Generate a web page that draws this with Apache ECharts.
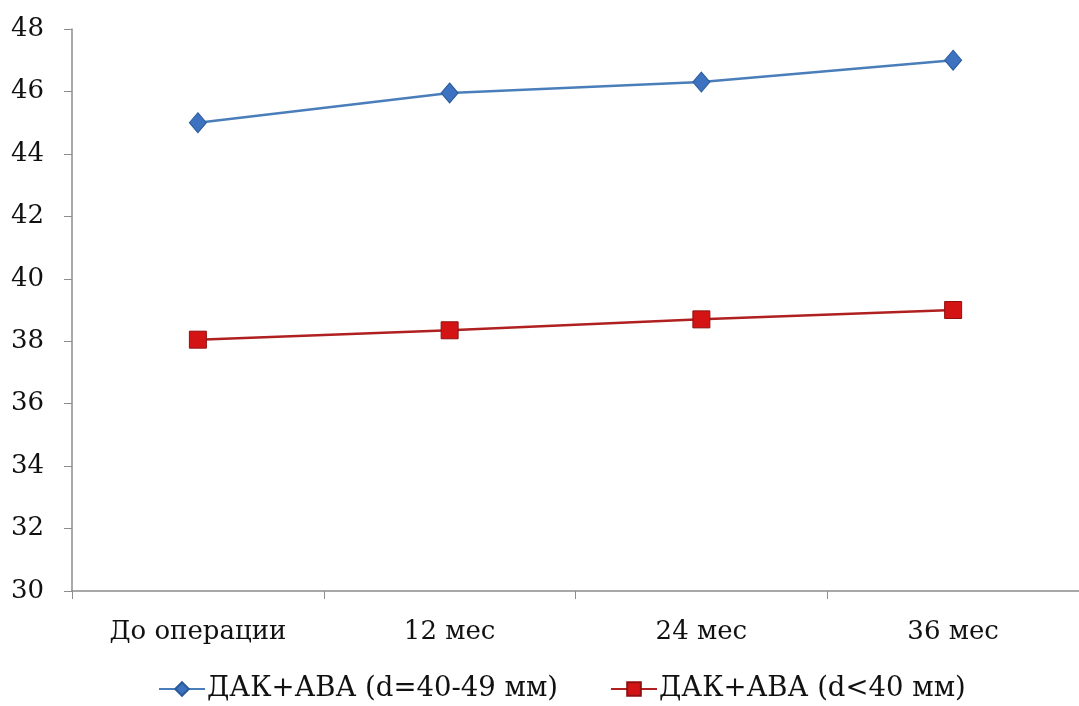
<!DOCTYPE html>
<html><head><meta charset="utf-8">
<script src="https://cdn.jsdelivr.net/npm/echarts@6/dist/echarts.min.js"></script>
<style>html,body{margin:0;padding:0;background:#fff}#c{width:1079px;height:706px}</style>
</head><body><div id="c"></div>
<script>
const categories = ['До операции', '12 мес', '24 мес', '36 мес'];
const seriesBlueName = 'ДАК+АВА (d=40-49 мм)';
const seriesRedName = 'ДАК+АВА (d<40 мм)';
const blueValues = [45.0, 45.95, 46.3, 47.0];
const redValues = [38.05, 38.35, 38.7, 39.0];
const yTicks = {min: 30, max: 48, interval: 2};

const font = 'DejaVu Serif';
const chart = echarts.init(document.getElementById('c'));
chart.setOption({
  animation: false,
  backgroundColor: '#fff',
  grid: {left: 72, top: 29, right: 0, height: 562, containLabel: false},
  legend: {
    top: 670, left: 153, itemGap: 52, itemWidth: 46, itemHeight: 17,
    textStyle: {fontFamily: font, fontSize: 27.5, color: '#111', padding: [0, 0, 0, -3]},
    data: [seriesBlueName, seriesRedName]
  },
  xAxis: {
    type: 'category', data: categories, boundaryGap: true,
    axisLine: {lineStyle: {color: '#8c8c8c', width: 1.5}},
    axisTick: {show: true, length: 8, lineStyle: {color: '#8c8c8c'}},
    axisLabel: {fontFamily: font, fontSize: 26, color: '#111', margin: 28},
    splitLine: {show: false}
  },
  yAxis: {
    type: 'value', min: yTicks.min, max: yTicks.max, interval: yTicks.interval,
    axisLine: {show: true, lineStyle: {color: '#8c8c8c', width: 1.5}},
    axisTick: {show: true, length: 8, lineStyle: {color: '#8c8c8c'}},
    axisLabel: {fontFamily: font, fontSize: 26, color: '#111', margin: 28},
    splitLine: {show: false}
  },
  series: [
    {
      name: seriesBlueName, type: 'line', data: blueValues,
      symbol: 'diamond', symbolSize: [17, 20],
      lineStyle: {color: '#4a7ebb', width: 2.5},
      itemStyle: {color: '#3c72c0', borderColor: '#2a5a9a', borderWidth: 1}
    },
    {
      name: seriesRedName, type: 'line', data: redValues,
      symbol: 'rect', symbolSize: 17,
      lineStyle: {color: '#b02020', width: 2.5},
      itemStyle: {color: '#d41414', borderColor: '#901010', borderWidth: 1}
    }
  ]
});
</script></body></html>
